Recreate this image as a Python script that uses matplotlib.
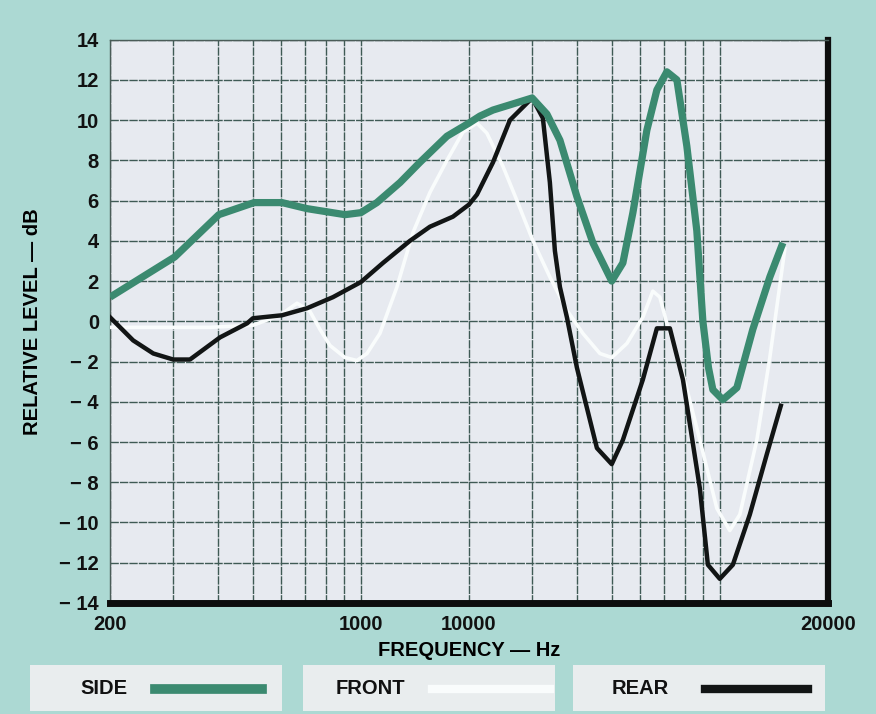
import matplotlib.pyplot as plt
from matplotlib.lines import Line2D
from matplotlib.patches import Rectangle
from matplotlib.ticker import FixedLocator, NullFormatter

plt.rcParams['font.family'] = ['Liberation Sans', 'DejaVu Sans']
plt.rcParams['font.weight'] = 'bold'

# frequencies (Hz) and levels (dB)
side_f = [200, 303, 402, 504, 603, 708, 903, 1000, 1108, 1286, 1460, 1737, 2000,
          2146, 2334, 3000, 3298, 3586, 3998, 4430, 5000, 5370, 5727, 6264, 6679,
          7121, 7594, 8096, 8630, 8972, 9300, 9566, 10198, 11158, 12361, 13786, 14990]
side_db = [1.2, 3.2, 5.3, 5.9, 5.9, 5.6, 5.3, 5.4, 5.9, 6.9, 7.9, 9.2, 9.85,
           10.2, 10.5, 11.1, 10.3, 9.0, 6.2, 3.9, 2.0, 2.9, 5.4, 9.5, 11.5,
           12.4, 12.0, 8.7, 4.5, 0.0, -2.3, -3.4, -3.9, -3.3, -0.4, 2.2, 3.9]

front_f = [200, 380, 500, 595, 664, 721, 769, 820, 903, 975, 1040, 1130, 1260,
           1396, 1557, 1737, 1924, 2106, 2244, 2488, 2722, 3016, 3362, 3750, 4154,
           4634, 5000, 5510, 6104, 6508, 6808, 7121, 7894, 8800, 9814, 10666,
           11374, 12684, 13786, 15180]
front_db = [-0.3, -0.3, -0.2, 0.3, 0.9, 0.5, -0.4, -1.2, -1.8, -1.95, -1.6, -0.6, 1.7,
            4.4, 6.4, 8.0, 9.4, 9.85, 9.35, 7.7, 6.0, 4.0, 2.2, 0.55, -0.6,
            -1.6, -1.8, -1.1, 0.2, 1.5, 1.2, -0.1, -2.6, -5.9, -9.3, -10.4,
            -9.6, -5.9, -1.8, 3.6]

rear_f = [200, 232, 264, 300, 334, 405, 482, 500, 603, 708, 836, 1000, 1152, 1370,
          1557, 1805, 2000, 2106, 2334, 2602, 3000, 3214, 3362, 3472, 3586, 3750,
          3998, 4546, 5000, 5370, 6104, 6679, 7260, 7894, 8800, 9264, 10000,
          10876, 12128, 13526, 14792]
rear_db = [0.2, -0.95, -1.6, -1.9, -1.9, -0.8, -0.1, 0.15, 0.3, 0.65, 1.2, 1.95, 2.9, 4.0,
           4.7, 5.2, 5.8, 6.3, 7.9, 10.0, 11.1, 10.1, 6.9, 3.5, 1.7, 0.2,
           -2.3, -6.3, -7.1, -5.9, -2.9, -0.35, -0.35, -2.9, -8.3, -12.1, -12.8,
           -12.1, -9.6, -6.6, -4.2]

grid_f = [300, 400, 500, 600, 700, 800, 900, 2000, 3000, 4000, 5000, 6000, 7000,
          8000, 9000, 10000]
tick_f = [200, 1000, 2000, 20000]
tick_labels = ['200', '1000', '10000', '20000']
y_ticks = list(range(-14, 15, 2))

bg = '#acd9d3'
fig = plt.figure(figsize=(8.76, 7.14), dpi=100, facecolor=bg)
ax = fig.add_axes([0.1256, 0.1555, 0.8194, 0.789])
ax.set_facecolor('#e7eaf0')

ax.set_xscale('log')
ax.set_xlim(200, 20000)
ax.set_ylim(-14, 14)

ax.xaxis.set_major_locator(FixedLocator(tick_f))
ax.set_xticklabels(tick_labels)
ax.xaxis.set_minor_locator(FixedLocator(grid_f))
ax.xaxis.set_minor_formatter(NullFormatter())
ax.set_yticks(y_ticks)
ax.set_yticklabels([str(v).replace('-', '\u2212 ') for v in y_ticks])
ax.tick_params(which='both', length=0, labelsize=14.5, colors='#111111')
ax.tick_params(axis='x', pad=9)
ax.tick_params(axis='y', pad=8)

ax.grid(True, which='both', color='#3f5a55', lw=1.0, ls=(0, (6, 0.8)))
ax.set_axisbelow(True)

ax.plot(front_f, front_db, color='#f9fcfc', lw=2.6, solid_joinstyle='round', zorder=3)
ax.plot(rear_f, rear_db, color='#121515', lw=3.2, solid_joinstyle='round', zorder=4)
ax.plot(side_f, side_db, color='#3b8a70', lw=5.2, solid_joinstyle='round',
        solid_capstyle='butt', zorder=5)

for s in ['left', 'top']:
    ax.spines[s].set_color('#4a5c58')
    ax.spines[s].set_linewidth(1.0)
ax.spines['right'].set_color('#0d0d0d')
ax.spines['right'].set_linewidth(4.5)
ax.spines['bottom'].set_color('#0d0d0d')
ax.spines['bottom'].set_linewidth(5)

ax.set_xlabel('FREQUENCY \u2014 Hz', fontsize=14.5, fontweight='bold', labelpad=5)
ax.set_ylabel('RELATIVE LEVEL \u2014 dB', fontsize=14.5, fontweight='bold', labelpad=12)

# legend boxes along the bottom: box left, text left, swatch start/end (pixels)
boxes = [(30, 80, 155, 262, 'SIDE', '#3b8a70', 7),
         (303, 336, 432, 550, 'FRONT', '#f9fcfc', 6),
         (573, 612, 705, 808, 'REAR', '#121515', 6)]
W, H = 876.0, 714.0
for x0, tx, s0, s1, name, col, lw in boxes:
    fig.patches.append(Rectangle((x0 / W, (H - 711) / H), 252 / W, 46 / H,
                                 transform=fig.transFigure, facecolor='#e9edee',
                                 edgecolor='none', zorder=0))
    fig.text(tx / W, (H - 689) / H, name, fontsize=14.5, fontweight='bold',
             va='center', ha='left', color='#111111')
    fig.lines.append(Line2D([s0 / W, s1 / W], [(H - 689) / H] * 2,
                            transform=fig.transFigure, color=col, lw=lw))

fig.savefig('out.png', dpi=100, facecolor=bg)
